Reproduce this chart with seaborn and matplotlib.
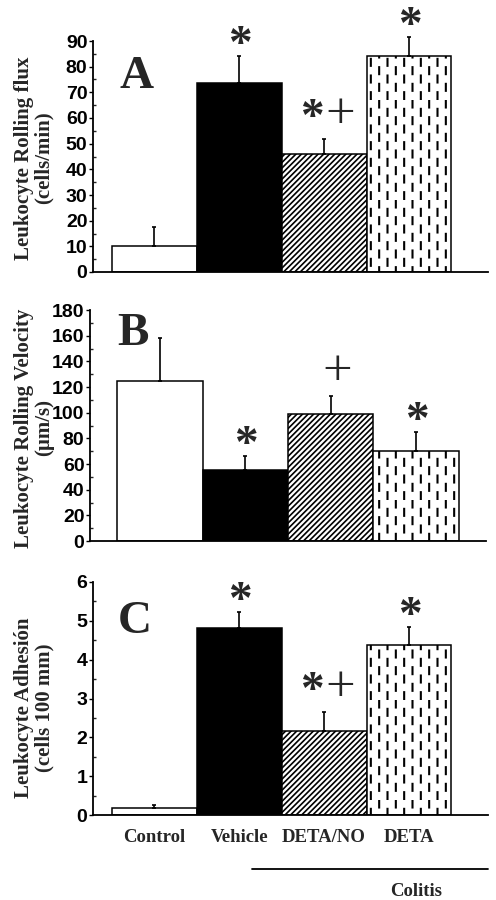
import warnings
import numpy as np
import pandas as pd
import matplotlib
matplotlib.use("Agg")
import matplotlib.pyplot as plt
import matplotlib.hatch as mhatch
from matplotlib.path import Path
from matplotlib.lines import Line2D
import seaborn as sns

warnings.filterwarnings("ignore")

# ---------------- data ----------------
categories = ["Control", "Vehicle", "DETA/NO", "DETA"]

flux_mean = [10, 73.5, 46, 84]
flux_err = [7.5, 10.5, 6, 7.5]
flux_marks = ["", "*", "*+", "*"]
flux_ticks = [0, 10, 20, 30, 40, 50, 60, 70, 80, 90]

velocity_mean = [124.5, 55, 99, 70]
velocity_err = [33.5, 11, 14, 15]
velocity_marks = ["", "*", "+", "*"]
velocity_ticks = [0, 20, 40, 60, 80, 100, 120, 140, 160, 180]

adhesion_mean = [0.17, 4.82, 2.16, 4.38]
adhesion_err = [0.08, 0.4, 0.5, 0.45]
adhesion_marks = ["", "*", "*+", "*"]
adhesion_ticks = [0, 1, 2, 3, 4, 5, 6]

panel_letters = ["A", "B", "C"]
ylabels = ["Leukocyte Rolling flux\n(cells/min)",
           "Leukocyte Rolling Velocity\n(\u00b5m/s)",
           "Leukocyte Adhesi\u00f3n\n(cells 100 mm)"]
group_label = "Colitis"


# ---------------- custom dashed vertical hatch ----------------
class DashHatch(mhatch.HatchPatternBase):
    def __init__(self, hatch, density):
        self.ncol = int(hatch.count('d') * density)
        self.nrow = 6
        self.num_vertices = self.ncol * self.nrow * 2

    def set_vertices_and_codes(self, vertices, codes):
        k = 0
        for i in range(self.ncol):
            x = (i + 0.5) / self.ncol
            for j in range(self.nrow):
                y0 = (j + 0.5 * (i % 2) + 0.05) / self.nrow
                y1 = y0 + 0.42 / self.nrow
                vertices[k] = (x, y0)
                vertices[k + 1] = (x, y1)
                codes[k] = Path.MOVETO
                codes[k + 1] = Path.LINETO
                k += 2


mhatch._hatch_types.append(DashHatch)

# ---------------- style ----------------
sns.set_theme(style="ticks")
plt.rcParams["font.family"] = ["Liberation Serif", "DejaVu Serif"]
plt.rcParams["hatch.color"] = "black"
plt.rcParams["path.simplify"] = False

W, H = 496, 900
fig = plt.figure(figsize=(W / 100, H / 100), dpi=100)
fig.patch.set_facecolor("white")


def fx(x):
    return x / W


def fy(y):
    return 1 - y / H


def add_axes(left, right, top, bottom):
    return fig.add_axes([fx(left), fy(bottom), fx(right) - fx(left), (bottom - top) / H])


SANS = ["Liberation Sans", "DejaVu Sans"]
SERIF = ["Liberation Serif", "DejaVu Serif"]

panels = [
    dict(mean=flux_mean, err=flux_err, marks=flux_marks, ticks=flux_ticks,
         box=(93, 488, 41, 272), xlim=(-0.72, 3.93), letter_xy=(137, 77), ylab_y=158),
    dict(mean=velocity_mean, err=velocity_err, marks=velocity_marks, ticks=velocity_ticks,
         box=(90, 486, 310, 541), xlim=(-0.82, 3.82), letter_xy=(133, 334), ylab_y=428),
    dict(mean=adhesion_mean, err=adhesion_err, marks=adhesion_marks, ticks=adhesion_ticks,
         box=(93, 488, 582, 815), xlim=(-0.72, 3.93), letter_xy=(135, 622), ylab_y=708),
]

faces = ["white", "black", "white", "white"]
hatches = [None, None, "//////", "dd"]
hatch_lws = [0.8, 0.8, 1.2, 1.5]

for idx, p in enumerate(panels):
    ax = add_axes(*p["box"])
    df = pd.DataFrame({"group": categories, "value": p["mean"]})
    sns.barplot(data=df, x="group", y="value", ax=ax, color="white",
                edgecolor="black", linewidth=1.1, width=1.0, errorbar=None,
                order=categories)
    bars = list(ax.patches)
    for b, fc, h, hl in zip(bars, faces, hatches, hatch_lws):
        b.set_facecolor(fc)
        b.set_edgecolor("black")
        if h:
            b.set_hatch(h)
            if hasattr(b, "set_hatch_linewidth"):
                b.set_hatch_linewidth(hl)
    xs = [b.get_x() + b.get_width() / 2 for b in bars]
    ax.errorbar(xs, p["mean"], yerr=[np.zeros(len(xs)), p["err"]], fmt="none",
                ecolor="black", elinewidth=1.2, capsize=1.5, capthick=1.2,
                clip_on=False, zorder=3)

    # significance marks
    for x, m, e, mk in zip(xs, p["mean"], p["err"], p["marks"]):
        top = m + e
        if mk == "*":
            ax.annotate("*", (x, top), xytext=(1, 10), textcoords="offset pixels",
                        ha="center", va="center", fontsize=34, fontweight="bold",
                        family=SERIF, annotation_clip=False)
        elif mk == "*+":
            ax.annotate("*", (x, top), xytext=(-12, 20), textcoords="offset pixels",
                        ha="center", va="center", fontsize=34, fontweight="bold",
                        family=SERIF, annotation_clip=False)
            ax.annotate("+", (x, top), xytext=(16, 24), textcoords="offset pixels",
                        ha="center", va="center", fontsize=38, family=SERIF,
                        annotation_clip=False)
        elif mk == "+":
            ax.annotate("+", (x, top), xytext=(7, 24), textcoords="offset pixels",
                        ha="center", va="center", fontsize=38, family=SERIF,
                        annotation_clip=False)

    ax.set_xlim(*p["xlim"])
    ax.set_ylim(p["ticks"][0], p["ticks"][-1])
    ax.set_yticks(p["ticks"])
    ax.set_yticklabels([str(t) for t in p["ticks"]], fontsize=14,
                       fontweight="bold", family=SANS)
    minor = [(a + b) / 2 for a, b in zip(p["ticks"][:-1], p["ticks"][1:])]
    ax.set_yticks(minor, minor=True)
    ax.tick_params(axis="y", which="major", direction="out", length=3, width=1,
                   pad=1, colors="black")
    ax.tick_params(axis="y", which="minor", direction="in", length=2, width=1)
    ax.set_xlabel("")
    ax.set_ylabel("")
    for s in ["top", "right"]:
        ax.spines[s].set_visible(False)
    for s in ["left", "bottom"]:
        ax.spines[s].set_linewidth(1.3)
        ax.spines[s].set_color("black")
    ax.set_facecolor("white")
    if idx < 2:
        ax.set_xticks(range(len(categories)))
        ax.set_xticklabels([])
        ax.tick_params(axis="x", length=0)
    else:
        ax.set_xticks(range(len(categories)))
        ax.set_xticklabels(categories, fontsize=13.5, fontweight="bold", family=SERIF)
        ax.tick_params(axis="x", length=0, pad=10)

    lx, ly = p["letter_xy"]
    fig.text(fx(lx), fy(ly), panel_letters[idx], fontsize=34, fontweight="bold",
             family=SERIF, ha="center", va="center")
    fig.text(fx(34), fy(p["ylab_y"]), ylabels[idx], rotation=90, fontsize=15,
             fontweight="bold", family=SERIF, ha="center", va="center",
             multialignment="center", linespacing=1.0)

# Colitis bracket
fig.add_artist(Line2D([fx(252), fx(488)], [fy(869), fy(869)], color="black", lw=1.3))
fig.text(fx(416), fy(892), group_label, fontsize=13.5, fontweight="bold", family=SERIF,
         ha="center", va="center")

fig.savefig("out.png", dpi=100, facecolor="white")
